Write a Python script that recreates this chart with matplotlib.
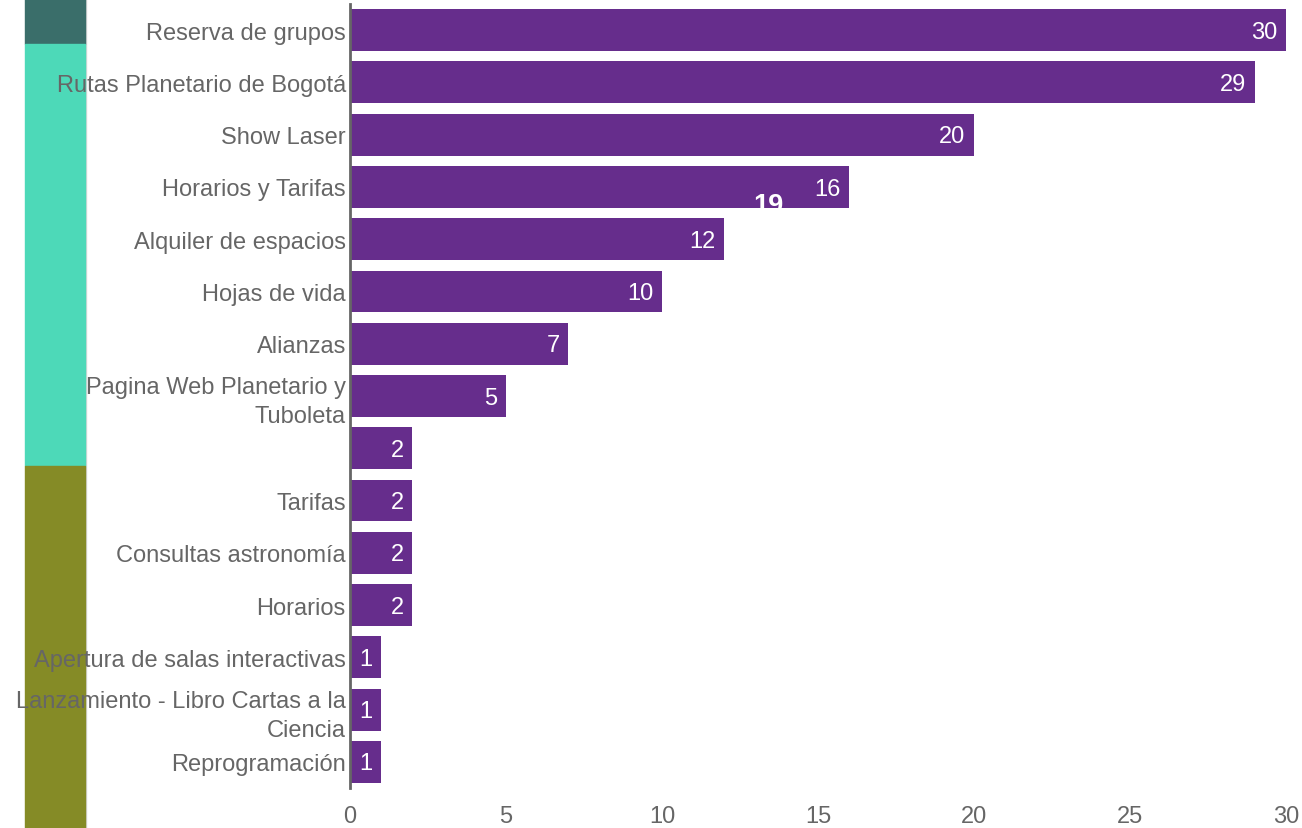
import matplotlib
matplotlib.use("Agg")
import matplotlib.pyplot as plt
from matplotlib.patches import Rectangle
from matplotlib.lines import Line2D

plt.rcParams['font.family'] = ['Liberation Sans', 'DejaVu Sans']

categories = [
    "Reserva de grupos",
    "Rutas Planetario de Bogotá",
    "Show Laser",
    "Horarios y Tarifas",
    "Alquiler de espacios",
    "Hojas de vida",
    "Alianzas",
    "Pagina Web Planetario y\nTuboleta",
    "",
    "Tarifas",
    "Consultas astronomía",
    "Horarios",
    "Apertura de salas interactivas",
    "Lanzamiento - Libro Cartas a la\nCiencia",
    "Reprogramación",
]
values = [30, 29, 20, 16, 12, 10, 7, 5, 2, 2, 2, 2, 1, 1, 1]
xticks = [0, 5, 10, 15, 20, 25, 30]
overlay_label = "19"

bar_color = "#662D8C"
text_grey = "#666666"
fs = 17

W, H = 1302, 829
fig = plt.figure(figsize=(W / 100, H / 100), dpi=100)

# Coloured side strip on the left, drawn beneath the labels
strip = [(0, 45, "#3A6E6A"), (45, 467, "#4DD9B8"), (467, 829, "#858B26")]
for top, bot, col in strip:
    fig.patches.append(Rectangle((25 / W, 1 - bot / H), 60 / W, (bot - top) / H,
                                 transform=fig.transFigure, color=col, zorder=-2))
fig.lines.append(Line2D([86 / W, 86 / W], [0, 1], transform=fig.transFigure,
                        color="#d8d8d8", lw=1, zorder=-2))

ax = fig.add_axes([350 / W, 1 - 789 / H, (1286 - 350) / W, (789 - 5) / H])
ax.set_zorder(1)
ax.patch.set_alpha(0)
y = list(range(len(categories)))
ax.barh(y, values, height=0.8, color=bar_color, zorder=2)
ax.set_ylim(len(categories) - 0.5, -0.5)
ax.set_xlim(0, 30)

for yi, v in zip(y, values):
    ax.text(v - 0.27, yi + 0.03, str(v), ha="right", va="center", color="white",
            fontsize=fs, zorder=3)

ax.text(13.4, 3.35, overlay_label, ha="center", va="center", color="white",
        fontsize=19.5, fontweight="bold", zorder=3)

ax.set_yticks(y)
ax.set_yticklabels(categories, fontsize=fs, color=text_grey, ha="right",
                   multialignment="right", linespacing=1.4)
ax.set_xticks(xticks)
ax.set_xticklabels([str(t) for t in xticks], fontsize=fs, color=text_grey)
ax.tick_params(axis="both", length=0)
ax.tick_params(axis="y", pad=3)
ax.tick_params(axis="x", pad=12)
for side in ["top", "right", "bottom"]:
    ax.spines[side].set_visible(False)
ax.spines["left"].set_color(text_grey)
ax.spines["left"].set_linewidth(2)
ax.spines["left"].set_zorder(4)

fig.savefig("out.png", dpi=100)
